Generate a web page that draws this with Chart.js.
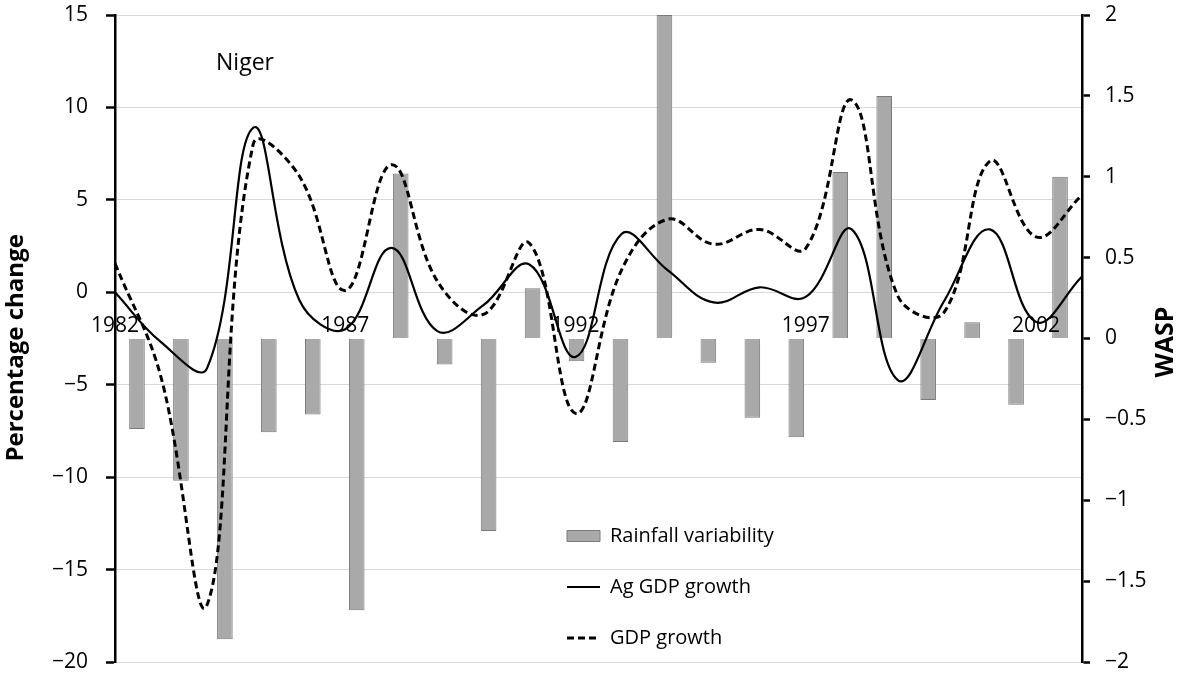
<!DOCTYPE html>
<html>
<head>
<meta charset="utf-8">
<script src="https://cdn.jsdelivr.net/npm/chart.js@4.4.1/dist/chart.umd.min.js"></script>
<style>
html,body{margin:0;padding:0;background:#fff;}
#wrap{width:1177px;height:674px;}
</style>
</head>
<body>
<div id="wrap"><canvas id="c" width="1177" height="674"></canvas></div>
<script>
// ---- data ----
const years = ['1982','1983','1984','1985','1986','1987','1988','1989','1990','1991','1992','1993','1994','1995','1996','1997','1998','1999','2000','2001','2002','2003'];
const rainfallWASP = [-0.56,-0.88,-1.86,-0.58,-0.47,-1.68,1.02,-0.16,-1.19,0.31,-0.14,-0.64,2.0,-0.15,-0.49,-0.61,1.03,1.5,-0.38,0.10,-0.41,1.0];
const agGdpGrowth = [0.0,-2.7,-4.1,8.9,-0.4,-2.0,2.4,-2.1,-0.7,1.5,-3.5,3.15,1.2,-0.55,0.27,-0.25,3.4,-4.75,-0.5,3.4,-1.6,0.85];
const gdpGrowth = [1.57,-4.6,-16.9,8.0,6.3,0.1,6.9,0.6,-1.2,2.65,-6.55,1.2,3.95,2.6,3.4,2.38,10.4,-0.2,-1.1,7.1,3.0,5.26];
const xTickYears = ['1982','1987','1992','1997','2002'];
const panelTitle = 'Niger';
const leftAxisTitle = 'Percentage change   ';
const rightAxisTitle = 'WASP';

Chart.defaults.font.family = "'Open Sans', sans-serif";
Chart.defaults.color = '#000';

const fmt = v => String(v).replace('-', '\u2212');

const legendMover = {
  id: 'legendMover',
  afterLayout(chart) {
    const l = chart.legend;
    if (!l) return;
    const w = l.width, h = l.height;
    l.left = 536; l.top = 495;
    l.right = l.left + w; l.bottom = l.top + h;
  }
};

const textPlugin = {
  id: 'texts',
  afterDraw(chart) {
    const c = chart.ctx;
    c.save();
    c.fillStyle = '#000';
    c.font = "23px 'Open Sans'";
    c.textAlign = 'center';
    c.textBaseline = 'alphabetic';
    c.fillText(panelTitle, 245, 70);
    c.translate(1173, 342);
    c.rotate(-Math.PI / 2);
    c.font = "bold 25px 'Open Sans'";
    c.fillText(rightAxisTitle, 0, 0);
    c.restore();
  }
};

new Chart(document.getElementById('c'), {
  type: 'bar',
  data: {
    labels: years,
    datasets: [
      {
        type: 'bar', label: 'Rainfall variability', data: rainfallWASP,
        xAxisID: 'x', yAxisID: 'y1',
        backgroundColor: '#a9a9a9', borderColor: '#7a7a7a', borderWidth: 1,
        barPercentage: 0.355, categoryPercentage: 1, grouped: false, order: 2
      },
      {
        type: 'line', label: 'Ag GDP growth', data: agGdpGrowth,
        xAxisID: 'x2', yAxisID: 'y',
        borderColor: '#000', backgroundColor: '#000', borderWidth: 2.2,
        pointRadius: 0, tension: 0.4, fill: false, order: 1
      },
      {
        type: 'line', label: 'GDP growth', data: gdpGrowth,
        xAxisID: 'x2', yAxisID: 'y',
        borderColor: '#000', backgroundColor: '#000', borderWidth: 3, borderDash: [7, 4],
        pointRadius: 0, tension: 0.4, fill: false, order: 0
      }
    ]
  },
  options: {
    responsive: false,
    animation: false,
    layout: { padding: { top: 15, bottom: 12, left: 0, right: 0 } },
    plugins: {
      tooltip: { enabled: false },
      legend: {
        position: 'chartArea',
        align: 'start',
        labels: {
          usePointStyle: true,
          pointStyleWidth: 33,
          boxHeight: 11,
          padding: 31,
          font: { size: 20 },
          color: '#000',
          generateLabels(chart) {
            return chart.data.datasets.map((ds, i) => ({
              text: ds.label,
              datasetIndex: i,
              fillStyle: ds.type === 'bar' ? ds.backgroundColor : 'rgba(0,0,0,0)',
              strokeStyle: ds.borderColor,
              lineWidth: ds.type === 'bar' ? 1 : ds.borderWidth,
              lineDash: ds.borderDash || [],
              pointStyle: ds.type === 'bar' ? 'rect' : 'line',
              hidden: false,
              fontColor: '#000'
            }));
          }
        }
      }
    },
    scales: {
      x: { display: false, offset: true },
      x2: {
        type: 'category',
        position: { y1: 0 },
        offset: false,
        grid: { display: false, drawTicks: false },
        border: { display: false },
        ticks: {
          z: 1,
          autoSkip: false, maxRotation: 0, minRotation: 0, padding: -25,
          font: { size: 21 }, color: '#000',
          callback(v) { const l = this.getLabelForValue(v); return xTickYears.includes(l) ? l : null; }
        }
      },
      y: {
        position: 'left', min: -20, max: 15,
        ticks: { stepSize: 5, font: { size: 21 }, color: '#000', padding: 18, callback: fmt },
        grid: { color: '#d9d9d9', lineWidth: 1, drawTicks: true, tickLength: 9, tickColor: '#000', tickWidth: 2.5 },
        border: { display: true, color: '#000', width: 2.5 },
        title: { display: true, text: leftAxisTitle, font: { size: 24, weight: 'bold' }, color: '#000', padding: { top: 2, bottom: 0 } },
        afterFit(s) { s.width = 115; s.paddingTop = 10; s.paddingBottom = 10; }
      },
      y1: {
        position: 'right', min: -2, max: 2,
        ticks: { stepSize: 0.5, font: { size: 21 }, color: '#000', padding: 15, callback: fmt },
        grid: { drawOnChartArea: false, drawTicks: true, tickLength: 8, tickColor: '#000', tickWidth: 2.5 },
        border: { display: true, color: '#000', width: 2.5 },
        afterFit(s) { s.width = 95; s.paddingTop = 10; s.paddingBottom = 10; }
      }
    }
  },
  plugins: [legendMover, textPlugin]
});
</script>
</body>
</html>
